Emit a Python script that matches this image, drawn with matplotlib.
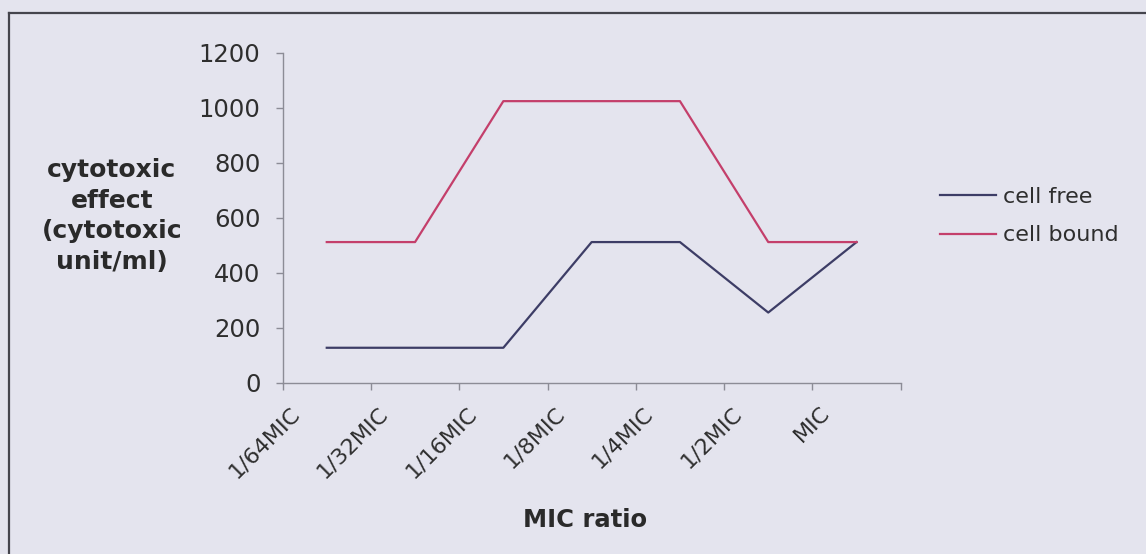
import matplotlib
matplotlib.use("Agg")
import matplotlib.pyplot as plt
from matplotlib.lines import Line2D
from matplotlib.transforms import ScaledTranslation, blended_transform_factory

categories = ["1/64MIC", "1/32MIC", "1/16MIC", "1/8MIC", "1/4MIC", "1/2MIC", "MIC"]
cell_free = [128, 128, 128, 512, 512, 256, 512]
cell_bound = [512, 512, 1024, 1024, 1024, 512, 512]
yticks = [0, 200, 400, 600, 800, 1000, 1200]

BG = "#e4e4ee"
W, H = 1146, 554
fig = plt.figure(figsize=(W / 100, H / 100), dpi=100, facecolor=BG)
ax = fig.add_axes([282.6 / W, 1 - 383 / H, (900.7 - 282.6) / W, (383 - 52.7) / H])
ax.set_facecolor("none")

x = [i + 0.5 for i in range(len(categories))]
ax.plot(x, cell_free, color="#3d3d66", lw=1.6, label="cell free")
ax.plot(x, cell_bound, color="#c43f6b", lw=1.6, label="cell bound")

ax.set_xlim(0, len(categories))
ax.set_ylim(0, 1200)
ax.set_yticks(yticks)
ax.set_xticks(range(len(categories) + 1))
ax.set_xticklabels([])

axis_col = "#8c8c96"
for s in ["top", "right"]:
    ax.spines[s].set_visible(False)
for s in ["left", "bottom"]:
    ax.spines[s].set_color(axis_col)
    ax.spines[s].set_linewidth(1.0)
ax.tick_params(axis="both", direction="out", length=5, width=1.0, color=axis_col)
ax.tick_params(axis="y", labelsize=17.5, labelcolor="#2e2e2e", pad=11)

trans = blended_transform_factory(ax.transData, ax.transAxes) + \
    ScaledTranslation(-30 / 100, -27 / 100, fig.dpi_scale_trans)
for xi, lab in zip(x, categories):
    ax.text(xi, 0, lab, transform=trans, rotation=45, rotation_mode="anchor",
            ha="right", va="center", fontsize=16, color="#2e2e2e")

ax.set_xlabel("MIC ratio", fontsize=17.5, fontweight="bold", color="#2a2a2a")
ax.xaxis.set_label_coords(0.49, -(520 - 383) / (383 - 52.7))
ax.xaxis.label.set_va("center")

fig.text(112 / W, 1 - 216 / H, "cytotoxic\neffect\n(cytotoxic\nunit/ml)",
         ha="center", va="center", multialignment="center",
         fontsize=18, fontweight="bold", color="#2a2a2a", linespacing=1.34)

leg = ax.legend(loc="center left", bbox_to_anchor=(940 / W, 1 - 216 / H),
                bbox_transform=fig.transFigure, frameon=False, fontsize=16,
                handlelength=2.5, handletextpad=0.35, labelspacing=0.85,
                borderaxespad=0, borderpad=0)
for t in leg.get_texts():
    t.set_color("#2e2e2e")

border_col = "#45454d"
fig.add_artist(Line2D([9 / W, 1.01], [1 - 13 / H, 1 - 13 / H], transform=fig.transFigure,
                      color=border_col, lw=1.6))
fig.add_artist(Line2D([9 / W, 9 / W], [1 - 13 / H, -0.01], transform=fig.transFigure,
                      color=border_col, lw=1.6))

fig.savefig("out.png", dpi=100, facecolor=BG)
